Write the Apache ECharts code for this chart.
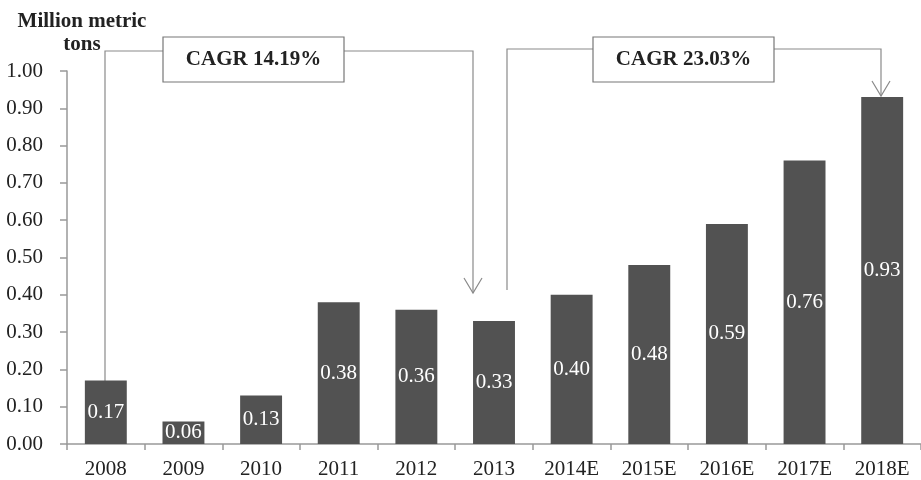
<!DOCTYPE html>
<html><head><meta charset="utf-8">
<script src="https://cdn.jsdelivr.net/npm/echarts@6/dist/echarts.min.js"></script>
<style>html,body{margin:0;padding:0;background:#fff}#c{width:921px;height:480px}</style>
</head><body><div id="c"></div>
<script>
var categories = ['2008','2009','2010','2011','2012','2013','2014E','2015E','2016E','2017E','2018E'];
var values = [0.17,0.06,0.13,0.38,0.36,0.33,0.40,0.48,0.59,0.76,0.93];
var cagrLabels = ['CAGR 14.19%','CAGR 23.03%'];
var FONT = '"Liberation Serif","Times New Roman",serif';
var chart = echarts.init(document.getElementById('c'));
var lineStyle = {stroke:'#8a8a8a', lineWidth:1.2, fill:null};
function poly(pts){return {type:'polyline', shape:{points:pts}, style:lineStyle, silent:true};}
function box(x,y,w,h,text){
  return {type:'group', children:[
    {type:'rect', shape:{x:x,y:y,width:w,height:h}, style:{fill:'#fff', stroke:'#777', lineWidth:1.2}},
    {type:'text', x:x+w/2, y:y+h/2, style:{text:text, font:'bold 21px '+FONT, fill:'#222', align:'center', verticalAlign:'middle'}}
  ]};
}
chart.setOption({
  animation:false,
  title:{text:'Million metric\ntons', left:77, top:5, textAlign:'center',
    textStyle:{fontFamily:FONT, fontWeight:'bold', fontSize:21, color:'#222', lineHeight:23}},
  grid:{left:67, top:71, width:860, bottom:36, containLabel:false},
  xAxis:{type:'category', data:categories,
    axisLine:{lineStyle:{color:'#999', width:1.5}},
    axisTick:{show:true, length:6, alignWithLabel:false, lineStyle:{color:'#999', width:1.5}},
    axisLabel:{fontFamily:FONT, fontSize:21, color:'#222', margin:15, interval:0}},
  yAxis:{type:'value', min:0, max:1, interval:0.1,
    axisLine:{show:true, lineStyle:{color:'#999', width:1.5}},
    axisTick:{show:true, length:7, lineStyle:{color:'#999', width:1.5}},
    splitLine:{show:false},
    axisLabel:{fontFamily:FONT, fontSize:21, color:'#222', margin:24, formatter:function(v){return v.toFixed(2);}}},
  series:[{type:'bar', data:values, barWidth:'54%',
    itemStyle:{color:'#525252'},
    label:{show:true, position:'inside', fontFamily:FONT, fontSize:21, color:'#fff',
      formatter:function(p){return p.value.toFixed(2);}}}],
  graphic:[
    poly([[105,383],[105,51],[163,51]]),
    poly([[344,51],[473,51],[473,293]]),
    poly([[464,278],[473,293],[482,278]]),
    box(163,37,181,45,cagrLabels[0]),
    poly([[507,290],[507,49],[593,49]]),
    poly([[774,49],[881,49],[881,96]]),
    poly([[872,81],[881,96],[890,81]]),
    box(593,37,181,45,cagrLabels[1])
  ]
});
</script></body></html>
